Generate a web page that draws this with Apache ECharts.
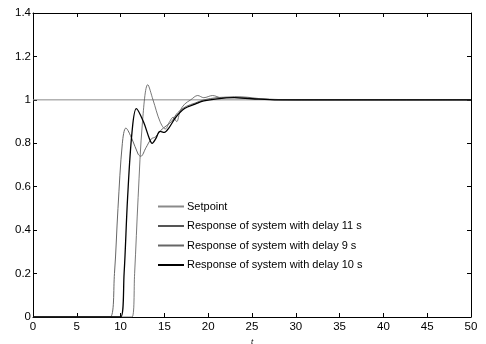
<!DOCTYPE html>
<html>
<head>
<meta charset="utf-8">
<script src="https://cdn.jsdelivr.net/npm/echarts@6/dist/echarts.min.js"></script>
<style>
html,body{margin:0;padding:0;background:#fff;}
#main{width:486px;height:344px;}
</style>
</head>
<body>
<div id="main"></div>
<script>
// setpoint
var setT = [0, 50];
var setY = [1, 1];
// delay 11 s
var t11 = [0, 11.3, 11.6, 12.0, 12.5, 13.1, 13.7, 14.5, 15.1, 15.6, 16.0, 16.4, 16.8, 17.3, 18.0, 18.8, 19.5, 20.5, 21.5, 23, 24.5, 26, 28, 32, 50];
var y11 = [0, 0, 0.2, 0.55, 0.9, 1.07, 1.0, 0.9, 0.866, 0.9, 0.92, 0.9, 0.95, 0.98, 1.0, 1.02, 1.01, 1.02, 1.01, 1.015, 1.012, 1.005, 1.0, 1.0, 1.0];
// delay 9 s
var t9 = [0, 8.8, 9.3, 9.7, 10.2, 10.6, 11.3, 12.0, 12.3, 12.9, 13.5, 14.0, 14.6, 15.2, 15.8, 16.5, 17.5, 18.5, 19.5, 21, 22, 24, 27, 30, 50];
var y9 = [0, 0, 0.2, 0.5, 0.8, 0.87, 0.82, 0.75, 0.74, 0.78, 0.82, 0.83, 0.86, 0.88, 0.9, 0.94, 0.97, 0.985, 1.0, 1.01, 1.012, 1.008, 1.003, 1.0, 1.0];
// delay 10 s
var t10 = [0, 10.0, 10.4, 10.8, 11.3, 11.8, 12.6, 13.3, 13.6, 14.0, 14.5, 15.0, 15.5, 16.3, 17.3, 18.5, 19.5, 21, 23, 25, 28, 50];
var y10 = [0, 0, 0.2, 0.55, 0.85, 0.96, 0.9, 0.82, 0.8, 0.82, 0.855, 0.85, 0.87, 0.92, 0.96, 0.98, 0.995, 1.005, 1.01, 1.005, 1.0, 1.0];

var xTicks = [0, 5, 10, 15, 20, 25, 30, 35, 40, 45, 50];
var yTicks = [0, 0.2, 0.4, 0.6, 0.8, 1, 1.2, 1.4];

function pairs(t, y) {
    return t.map(function (v, i) { return [v, y[i]]; });
}

var chart = echarts.init(document.getElementById('main'));
var font = "'Liberation Sans', Arial, sans-serif";
var axLine = { show: true, onZero: false, lineStyle: { color: '#000', width: 1 } };
var tick = { inside: true, length: 4, lineStyle: { color: '#000' } };

var option = {
    animation: false,
    backgroundColor: '#fff',
    grid: { left: 33, right: 15, top: 13, bottom: 27, outerBoundsMode: 'none' },
    legend: {
        orient: 'vertical',
        left: 152,
        top: 196,
        itemWidth: 26,
        itemHeight: 12,
        itemGap: 8.5,
        itemStyle: { opacity: 0 },
        textStyle: { fontFamily: font, fontSize: 11, color: '#000', padding: [0, 0, 0, -2] },
        data: ['Setpoint', 'Response of system with delay 11 s', 'Response of system with delay 9 s', 'Response of system with delay 10 s']
    },
    xAxis: [{
        type: 'value', min: 0, max: 50, interval: 5,
        name: 't', nameLocation: 'middle', nameGap: 18,
        nameTextStyle: { fontFamily: font, fontSize: 8, fontStyle: 'italic', color: '#000' },
        axisLine: axLine, axisTick: tick, splitLine: { show: false },
        axisLabel: {
            fontFamily: font, fontSize: 11.5, color: '#000', margin: 4,
            formatter: function (v) { return xTicks.indexOf(v) >= 0 ? String(v) : ''; }
        }
    }, {
        type: 'value', min: 0, max: 50, interval: 5, position: 'top',
        axisLine: axLine, axisTick: tick, splitLine: { show: false },
        axisLabel: { show: false }
    }],
    yAxis: [{
        type: 'value', min: 0, max: 1.4, interval: 0.2,
        axisLine: axLine, axisTick: tick, splitLine: { show: false },
        axisLabel: {
            fontFamily: font, fontSize: 11.5, color: '#000', margin: 2,
            formatter: function (v) { return String(yTicks[Math.round(v * 5)]); }
        }
    }, {
        type: 'value', min: 0, max: 1.4, interval: 0.2, position: 'right',
        axisLine: axLine, axisTick: tick, splitLine: { show: false },
        axisLabel: { show: false }
    }],
    series: [{
        name: 'Setpoint', type: 'line', symbol: 'none',
        lineStyle: { color: '#8a8a8a', width: 1 },
        itemStyle: { color: '#8a8a8a' },
        data: pairs(setT, setY)
    }, {
        name: 'Response of system with delay 11 s', type: 'line', symbol: 'none', smooth: 0.35,
        lineStyle: { color: '#555', width: 0.8 },
        itemStyle: { color: '#555' },
        data: pairs(t11, y11)
    }, {
        name: 'Response of system with delay 9 s', type: 'line', symbol: 'none', smooth: 0.35,
        lineStyle: { color: '#666', width: 1 },
        itemStyle: { color: '#666' },
        data: pairs(t9, y9)
    }, {
        name: 'Response of system with delay 10 s', type: 'line', symbol: 'none', smooth: 0.35,
        lineStyle: { color: '#000', width: 1.3 },
        itemStyle: { color: '#000' },
        data: pairs(t10, y10)
    }]
};
chart.setOption(option);
</script>
</body>
</html>
